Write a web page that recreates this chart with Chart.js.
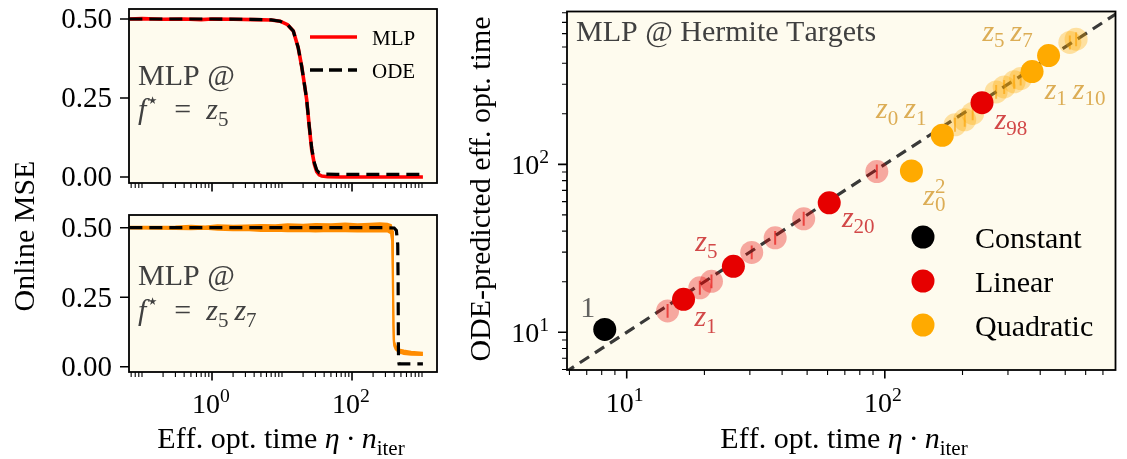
<!DOCTYPE html>
<html>
<head>
<meta charset="utf-8">
<script src="https://cdn.jsdelivr.net/npm/chart.js@4.4.1/dist/chart.umd.min.js"></script>
<style>
  html, body { margin: 0; padding: 0; background: #fff; }
  #wrap { position: relative; width: 1127px; height: 459px; overflow: hidden; }
  #wrap canvas { position: absolute; left: 0; top: 0; }
</style>
</head>
<body>
<div id="wrap">
  <canvas id="topChart" width="1127" height="459"></canvas>
  <canvas id="bottomChart" width="1127" height="459"></canvas>
  <canvas id="scatterChart" width="1127" height="459"></canvas>
</div>
<script>
// ---- f* = z5 : MLP vs ODE loss curves ----
const topMlpX = [0.066, 0.1, 0.2, 0.4, 0.7, 1, 2, 4, 7, 9.4, 12, 14.5, 17, 19.1, 21, 22.5, 24.5, 26.6, 29, 31.3, 34, 37, 45, 70, 150, 400, 1030];
const topMlpY = [0.5, 0.501, 0.499, 0.5, 0.498, 0.5, 0.499, 0.498, 0.497, 0.493, 0.482, 0.462, 0.41, 0.35, 0.29, 0.245, 0.16, 0.085, 0.04, 0.017, 0.007, 0.003, 0.001, 0, 0, 0, 0];
const topOdeX = [0.066, 0.3, 1, 3, 7, 9.4, 12, 14.5, 17, 19.1, 21, 22.5, 24.5, 26.6, 29, 31.3, 34, 40, 60, 150, 400, 1030];
const topOdeY = [0.5, 0.5, 0.5, 0.499, 0.497, 0.493, 0.482, 0.462, 0.41, 0.35, 0.29, 0.245, 0.16, 0.09, 0.045, 0.022, 0.013, 0.009, 0.0085, 0.0085, 0.0085, 0.0085];

// ---- f* = z5 z7 : noisy MLP band + ODE ----
const botMlpX    = [0.066, 0.15, 0.3, 0.5, 0.8, 1.2, 2, 3, 5, 8, 12, 20, 30, 50, 80, 120, 180, 250, 320, 360, 375, 385, 392, 400, 420, 470, 550, 700, 1030];
const botMlpHigh = [0.503, 0.503, 0.504, 0.507, 0.504, 0.509, 0.507, 0.508, 0.51, 0.509, 0.512, 0.511, 0.513, 0.512, 0.515, 0.512, 0.514, 0.516, 0.514, 0.51, 0.49, 0.35, 0.15, 0.09, 0.075, 0.062, 0.058, 0.054, 0.05];
const botMlpLow  = [0.497, 0.496, 0.495, 0.494, 0.496, 0.493, 0.491, 0.492, 0.488, 0.489, 0.487, 0.488, 0.486, 0.488, 0.487, 0.486, 0.487, 0.486, 0.487, 0.48, 0.45, 0.25, 0.1, 0.075, 0.062, 0.052, 0.046, 0.043, 0.042];
const botOdeX = [0.066, 1, 10, 100, 300, 400, 430, 450, 456, 459, 462, 470, 600, 1030];
const botOdeY = [0.5, 0.5, 0.5, 0.5, 0.5, 0.499, 0.49, 0.44, 0.3, 0.1, 0.02, 0.01, 0.01, 0.01];

// ---- Hermite targets: measured vs ODE-predicted time ----
const constX = [8.22];
const constY = [10.4];
const linX = [16.6, 25.9, 60.9, 238];
const linY = [15.7, 24.7, 59.0, 233];
const linFaintX = [14.4, 19.2, 21.3, 30.5, 37.6, 48.5, 93.1];
const linFaintY = [13.4, 18.4, 20.1, 29.9, 36.5, 47.4, 90.6];
const linFaintErr = [1.1, 1.1, 1.1, 1.1, 1.1, 1.1, 1.1];
const quadX = [126.8, 167, 372, 431];
const quadY = [91.4, 149, 357, 444];
const quadFaintX = [187, 204, 219, 270, 290, 317, 336, 521, 551];
const quadFaintY = [172, 184, 201, 270, 289, 310, 324, 532, 556];
const quadFaintErr = [1.1, 1.1, 1.1, 1.1, 1.1, 1.1, 1.1, 1.1, 1.1];
const diagonal = [1, 1000];

// tick values / labels
const lossYTicks = [0, 0.25, 0.5];
const lossYLabels = ['0.00', '0.25', '0.50'];
const lossXMajor = [1, 100];
const lossXLabels = ['10^0', '10^2'];
const timeMajor = [10, 100];
const timeLabels = ['10^1', '10^2'];

const SERIF = '"Liberation Serif", "Times New Roman", serif';
const CREAM = '#fefbee';
const RED = '#e60000';
const ORANGE = '#ffaa00';
const THIN = '\u2009';
const EN = '\u2002';

const pts = (xs, ys) => xs.map((x, i) => ({ x: x, y: ys[i] }));

function minorLogTicks(min, max, majors) {
    const out = [];
    for (let e = -3; e <= 4; e++) {
        for (let m = 1; m <= 9; m++) {
            const v = m * Math.pow(10, e);
            if (v >= min && v <= max && !majors.includes(v)) out.push(v);
        }
    }
    return out;
}

// tiny mathtext: "_x", "_{xy}", "^x"; a group starting with "~" is upright
function parseMath(str) {
    const runs = [];
    let i = 0;
    while (i < str.length) {
        const c = str[i];
        if (c === '_' || c === '^') {
            let grp;
            if (str[i + 1] === '{') {
                const j = str.indexOf('}', i);
                grp = str.slice(i + 2, j);
                i = j + 1;
            } else {
                grp = str[i + 1];
                i += 2;
            }
            runs.push({ t: grp, lv: c === '_' ? -1 : 1 });
        } else {
            runs.push({ t: c, lv: 0 });
            i++;
        }
    }
    return runs;
}

function drawMath(ctx, str, x, y, size, color, align, math) {
    const items = [];
    let cx = 0, prev = null;
    parseMath(str).forEach(r => {
        const roman = r.t[0] === '~';
        const txt = roman ? r.t.slice(1) : r.t;
        const fs = r.lv ? size * 0.7 : size;
        const it = math && !roman && /[A-Za-z\u03b7]/.test(txt);
        const font = (it ? 'italic ' : '') + fs + 'px ' + SERIF;
        ctx.font = font;
        const w = ctx.measureText(txt).width;
        let x0 = cx;
        if (r.lv && prev && prev.lv === -r.lv) {
            x0 = prev.x;
            cx = Math.max(cx, x0 + w);
        } else {
            cx = x0 + w;
        }
        const dy = r.lv === -1 ? size * 0.22 : r.lv === 1 ? -size * 0.4 : 0;
        items.push({ txt, font, x: x0, dy });
        prev = r.lv ? { lv: r.lv, x: x0 } : null;
    });
    let start = x;
    if (align === 'center') start = x - cx / 2;
    if (align === 'right') start = x - cx;
    ctx.save();
    ctx.fillStyle = color;
    ctx.textBaseline = 'alphabetic';
    ctx.textAlign = 'left';
    items.forEach(o => {
        ctx.font = o.font;
        ctx.fillText(o.txt, start + o.x, y + o.dy);
    });
    ctx.restore();
    return cx;
}

function fillArea(chart) {
    const { ctx, chartArea: a } = chart;
    ctx.save();
    ctx.fillStyle = CREAM;
    ctx.fillRect(a.left, a.top, a.right - a.left, a.bottom - a.top);
    ctx.restore();
}

function drawFrame(chart) {
    const { ctx, chartArea: a } = chart;
    ctx.save();
    ctx.strokeStyle = '#000';
    ctx.lineWidth = 1.8;
    ctx.strokeRect(a.left, a.top, a.right - a.left, a.bottom - a.top);
    ctx.restore();
}

function xTicks(chart, values, len, width) {
    const { ctx, chartArea: a, scales } = chart;
    ctx.save();
    ctx.strokeStyle = '#000';
    ctx.lineWidth = width;
    ctx.beginPath();
    values.forEach(v => {
        const px = scales.x.getPixelForValue(v);
        ctx.moveTo(px, a.bottom);
        ctx.lineTo(px, a.bottom + len);
    });
    ctx.stroke();
    ctx.restore();
}

function yTicks(chart, values, len, width) {
    const { ctx, chartArea: a, scales } = chart;
    ctx.save();
    ctx.strokeStyle = '#000';
    ctx.lineWidth = width;
    ctx.beginPath();
    values.forEach(v => {
        const py = scales.y.getPixelForValue(v);
        ctx.moveTo(a.left, py);
        ctx.lineTo(a.left - len, py);
    });
    ctx.stroke();
    ctx.restore();
}

function rotatedText(ctx, text, x, y, size) {
    ctx.save();
    ctx.translate(x, y);
    ctx.rotate(-Math.PI / 2);
    ctx.font = size + 'px ' + SERIF;
    ctx.fillStyle = '#000';
    ctx.textAlign = 'center';
    ctx.textBaseline = 'alphabetic';
    ctx.fillText(text, 0, 0);
    ctx.restore();
}

// "Eff. opt. time η·n_iter" centred on cx
function timeTitle(ctx, cx, y) {
    const w1 = drawMath(ctx, 'Eff. opt. time ', 0, -100, 30, '#000', 'left', false);
    const w2 = drawMath(ctx, '\u03b7' + THIN + '\u00b7' + THIN + 'n_{~iter}', 0, -100, 30, '#000', 'left', true);
    const sx = cx - (w1 + w2) / 2;
    drawMath(ctx, 'Eff. opt. time ', sx, y, 30, '#000', 'left', false);
    drawMath(ctx, '\u03b7' + THIN + '\u00b7' + THIN + 'n_{~iter}', sx + w1, y, 30, '#000', 'left', true);
}

function lossAxes(chart, showXLabels) {
    const { ctx, chartArea: a, scales } = chart;
    drawFrame(chart);
    xTicks(chart, minorLogTicks(scales.x.min, scales.x.max, lossXMajor), 5, 1.1);
    xTicks(chart, lossXMajor, 8.5, 1.6);
    yTicks(chart, lossYTicks, 9, 1.6);
    lossYTicks.forEach((v, i) => {
        drawMath(ctx, lossYLabels[i], a.left - 17, scales.y.getPixelForValue(v) + 9.5, 29, '#000', 'right', false);
    });
    if (showXLabels) {
        lossXMajor.forEach((v, i) => {
            drawMath(ctx, lossXLabels[i], scales.x.getPixelForValue(v) - 1, a.bottom + 41, 28, '#000', 'center', false);
        });
    }
}

const baseOptions = (padding, xr, yr, ylog) => ({
    responsive: false,
    animation: false,
    devicePixelRatio: 1,
    layout: { padding: padding },
    plugins: { legend: { display: false }, tooltip: { enabled: false } },
    elements: { point: { radius: 0 }, line: { tension: 0 } },
    scales: {
        x: { type: 'logarithmic', display: false, min: xr[0], max: xr[1] },
        y: { type: ylog ? 'logarithmic' : 'linear', display: false, min: yr[0], max: yr[1] }
    }
});

const backgroundPlugin = { id: 'cream', beforeDraw: fillArea };

// top-left panel
new Chart(document.getElementById('topChart'), {
    type: 'line',
    data: {
        datasets: [
            { data: pts(topMlpX, topMlpY), borderColor: '#ff0000', borderWidth: 3.6, order: 2 },
            { data: pts(topOdeX, topOdeY), borderColor: '#000', borderWidth: 3.2, borderDash: [13, 7], order: 1 }
        ]
    },
    options: baseOptions({ left: 129, top: 9, right: 690, bottom: 276 }, [0.0652, 1637], [-0.019, 0.5316], false),
    plugins: [backgroundPlugin, {
        id: 'topDecor',
        afterDraw(chart) {
            const ctx = chart.ctx;
            lossAxes(chart, false);
            drawMath(ctx, 'MLP @', 138, 85, 30, '#404040', 'left', false);
            drawMath(ctx, 'f^{\u22c6}' + EN + '=' + EN + 'z_5', 138, 119, 30, '#404040', 'left', true);
            // legend
            ctx.save();
            ctx.lineWidth = 3.4;
            ctx.strokeStyle = '#ff0000';
            ctx.beginPath(); ctx.moveTo(310, 37); ctx.lineTo(357, 37); ctx.stroke();
            ctx.strokeStyle = '#000';
            ctx.setLineDash([13, 6]);
            ctx.beginPath(); ctx.moveTo(310, 70); ctx.lineTo(357, 70); ctx.stroke();
            ctx.restore();
            drawMath(ctx, 'MLP', 372, 44.5, 21, '#000', 'left', false);
            drawMath(ctx, 'ODE', 372, 77.5, 21, '#000', 'left', false);
        }
    }]
});

// bottom-left panel
new Chart(document.getElementById('bottomChart'), {
    type: 'line',
    data: {
        datasets: [
            { data: pts(botMlpX, botMlpHigh), borderColor: '#ff8c00', borderWidth: 2, order: 3 },
            { data: pts(botMlpX, botMlpLow), borderColor: '#ff8c00', borderWidth: 2, backgroundColor: '#ff8c00', fill: '-1', order: 2 },
            { data: pts(botOdeX, botOdeY), borderColor: '#000', borderWidth: 3.2, borderDash: [13, 7], order: 1 }
        ]
    },
    options: baseOptions({ left: 129, top: 215, right: 690, bottom: 87 }, [0.0652, 1637], [-0.019, 0.5457], false),
    plugins: [backgroundPlugin, {
        id: 'bottomDecor',
        afterDraw(chart) {
            const ctx = chart.ctx;
            lossAxes(chart, true);
            drawMath(ctx, 'MLP @', 138, 285, 30, '#404040', 'left', false);
            drawMath(ctx, 'f^{\u22c6}' + EN + '=' + EN + 'z_5' + THIN + 'z_7', 138, 320, 30, '#404040', 'left', true);
            timeTitle(ctx, 281, 448);
            rotatedText(ctx, 'Online MSE', 34, 236, 30);
        }
    }]
});

// right panel: scatter of Hermite targets
const pointLabels = [
    { text: '1', x: constX, y: constY, i: 0, dx: -17, dy: -12, color: 'rgba(70,70,70,0.85)' },
    { text: 'z_1', x: linX, y: linY, i: 0, dx: 22, dy: 27, color: '#d24848' },
    { text: 'z_5', x: linX, y: linY, i: 1, dx: -27, dy: -15, color: '#d24848' },
    { text: 'z_{20}', x: linX, y: linY, i: 2, dx: 29, dy: 24, color: '#d24848' },
    { text: 'z_{98}', x: linX, y: linY, i: 3, dx: 29, dy: 26, color: '#d24848' },
    { text: 'z_0^2', x: quadX, y: quadY, i: 0, dx: 23, dy: 34, color: '#dcad55' },
    { text: 'z_0' + THIN + 'z_1', x: quadX, y: quadY, i: 1, dx: -41, dy: -17, color: '#dcad55' },
    { text: 'z_1' + THIN + 'z_{10}', x: quadX, y: quadY, i: 2, dx: 43, dy: 27, color: '#dcad55' },
    { text: 'z_5' + THIN + 'z_7', x: quadX, y: quadY, i: 3, dx: -41, dy: -15, color: '#dcad55' }
];

const legendItems = [
    { label: 'Constant', color: '#000' },
    { label: 'Linear', color: RED },
    { label: 'Quadratic', color: ORANGE }
];

function errorBars(chart, xs, ys, errs, color) {
    const { ctx, scales } = chart;
    ctx.save();
    ctx.strokeStyle = color;
    ctx.lineWidth = 2;
    ctx.beginPath();
    xs.forEach((x, i) => {
        const px = scales.x.getPixelForValue(x);
        ctx.moveTo(px, scales.y.getPixelForValue(ys[i] * errs[i]));
        ctx.lineTo(px, scales.y.getPixelForValue(ys[i] / errs[i]));
    });
    ctx.stroke();
    ctx.restore();
}

new Chart(document.getElementById('scatterChart'), {
    type: 'scatter',
    data: {
        datasets: [
            { type: 'line', data: pts(diagonal, diagonal), borderColor: 'rgba(40,40,40,0.92)', borderWidth: 3.2, borderDash: [11, 7], pointRadius: 0, order: 5 },
            { data: pts(linFaintX, linFaintY), backgroundColor: 'rgba(230,0,0,0.33)', borderWidth: 0, pointRadius: 11.5, order: 3 },
            { data: pts(quadFaintX, quadFaintY), backgroundColor: 'rgba(255,170,0,0.33)', borderWidth: 0, pointRadius: 11.5, order: 3 },
            { data: pts(constX, constY), backgroundColor: '#000', borderWidth: 0, pointRadius: 11.5, order: 1 },
            { data: pts(linX, linY), backgroundColor: RED, borderWidth: 0, pointRadius: 11.5, order: 1 },
            { data: pts(quadX, quadY), backgroundColor: ORANGE, borderWidth: 0, pointRadius: 11.5, order: 1 }
        ]
    },
    options: baseOptions({ left: 567, top: 7, right: 4, bottom: 89 }, [5.87, 783], [5.96, 813], true),
    plugins: [backgroundPlugin, {
        id: 'scatterDecor',
        beforeDatasetsDraw(chart) {
            errorBars(chart, linFaintX, linFaintY, linFaintErr, 'rgba(225,0,0,0.6)');
            errorBars(chart, quadFaintX, quadFaintY, quadFaintErr, 'rgba(245,150,0,0.6)');
        },
        afterDraw(chart) {
            const { ctx, chartArea: a, scales } = chart;
            drawFrame(chart);
            xTicks(chart, minorLogTicks(scales.x.min, scales.x.max, timeMajor), 5, 1.1);
            xTicks(chart, timeMajor, 8.5, 1.6);
            yTicks(chart, minorLogTicks(scales.y.min, scales.y.max, timeMajor), 5, 1.1);
            yTicks(chart, timeMajor, 9, 1.6);
            timeMajor.forEach((v, i) => {
                drawMath(ctx, timeLabels[i], scales.x.getPixelForValue(v) - 2, a.bottom + 42, 28, '#000', 'center', false);
                drawMath(ctx, timeLabels[i], a.left - 18, scales.y.getPixelForValue(v) + 10, 28, '#000', 'right', false);
            });
            drawMath(ctx, 'MLP @ Hermite Targets', 576, 41, 30, '#404040', 'left', false);
            pointLabels.forEach(l => {
                const px = scales.x.getPixelForValue(l.x[l.i]) + l.dx;
                const py = scales.y.getPixelForValue(l.y[l.i]) + l.dy;
                drawMath(ctx, l.text, px, py, 30, l.color, 'center', true);
            });
            legendItems.forEach((it, i) => {
                const y = 237 + i * 44;
                ctx.save();
                ctx.fillStyle = it.color;
                ctx.beginPath(); ctx.arc(923, y, 11.5, 0, Math.PI * 2); ctx.fill();
                ctx.restore();
                drawMath(ctx, it.label, 975, y + 11, 30, '#000', 'left', false);
            });
            timeTitle(ctx, 844, 448);
            rotatedText(ctx, 'ODE-predicted eff. opt. time', 490, 189, 30);
        }
    }]
});
</script>
</body>
</html>
